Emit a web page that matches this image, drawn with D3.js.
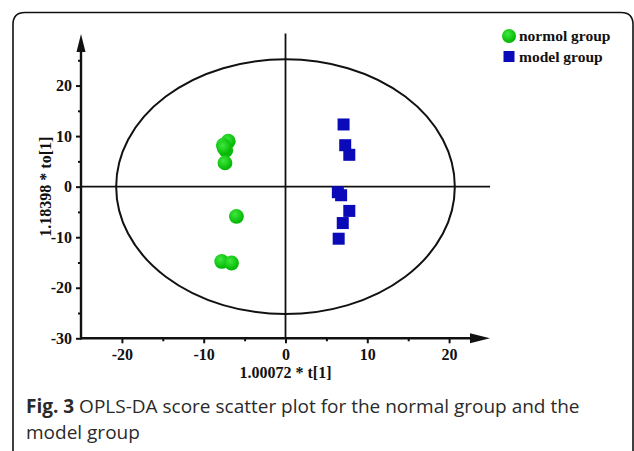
<!DOCTYPE html>
<html>
<head>
<meta charset="utf-8">
<script src="https://cdn.jsdelivr.net/npm/d3@7/dist/d3.min.js"></script>
<style>
  html, body { margin: 0; padding: 0; background: #fff; }
  svg { display: block; }
</style>
</head>
<body>
<svg id="chart" width="634" height="451"></svg>
<script>
// OPLS-DA scores: predictive component t[1] vs orthogonal component to[1]
const normalT = [-7.0, -7.6, -7.3, -7.5, -7.4, -6.0, -7.8, -6.6];
const normalTo = [9.0, 8.2, 7.2, 7.7, 4.7, -5.9, -14.8, -15.1];
const modelT = [7.1, 7.3, 7.8, 6.4, 6.8, 7.8, 7.0, 6.5];
const modelTo = [12.3, 8.2, 6.3, -1.1, -1.7, -4.8, -7.2, -10.3];

const xTicks = [-20, -10, 0, 10, 20];
const xMinorTicks = [-15, -5, 5, 15];
const yTicks = [-30, -20, -10, 0, 10, 20];
const yMinorTicks = [-25, -15, -5, 5, 15, 25];

// Hotelling's T2 ellipse radii (in score units)
const ellipseRx = 20.7;
const ellipseRy = 25.2;

const legendLabels = ["normol group", "model group"];
const xTitle = "1.00072 * t[1]";
const yTitle = "1.18398 * to[1]";

const svg = d3.select("#chart");
const serif = "'Liberation Serif', 'Times New Roman', serif";

const x = d3.scaleLinear().domain([-25, 25]).range([81, 490]);
const y = d3.scaleLinear().domain([-30, 30]).range([338.3, 35]);

// defs: green sphere shading
const defs = svg.append("defs");
const grad = defs.append("radialGradient").attr("id", "greenBall")
  .attr("cx", "40%").attr("cy", "35%").attr("r", "65%");
grad.append("stop").attr("offset", "0%").attr("stop-color", "#3ee83e");
grad.append("stop").attr("offset", "100%").attr("stop-color", "#00b400");

// panel frame with rounded top corners
const fr = 12, fl = 13, ft = 12.5, fright = 633;
svg.append("path")
  .attr("d", `M${fl},451 L${fl},${ft + fr} Q${fl},${ft} ${fl + fr},${ft} L${fright - fr},${ft} Q${fright},${ft} ${fright},${ft + fr} L${fright},451`)
  .attr("fill", "none").attr("stroke", "#111").attr("stroke-width", 1.6);

// confidence ellipse
svg.append("ellipse")
  .attr("cx", x(0)).attr("cy", y(0))
  .attr("rx", x(ellipseRx) - x(0)).attr("ry", y(0) - y(ellipseRy))
  .attr("fill", "none").attr("stroke", "#111").attr("stroke-width", 2);

// zero reference lines
svg.append("line")
  .attr("x1", x(-25)).attr("x2", x(25)).attr("y1", y(0)).attr("y2", y(0))
  .attr("stroke", "#111").attr("stroke-width", 1.8);
svg.append("line")
  .attr("x1", x(0)).attr("x2", x(0)).attr("y1", y(-30)).attr("y2", y(30.3))
  .attr("stroke", "#111").attr("stroke-width", 1.8);

// axes
const fmt = d => String(d);
const xAxis = svg.append("g").attr("transform", `translate(0,${y(-30)})`)
  .call(d3.axisBottom(x).tickValues(xTicks).tickSize(5).tickPadding(5).tickFormat(fmt));
const xMinor = svg.append("g").attr("transform", `translate(0,${y(-30)})`)
  .call(d3.axisBottom(x).tickValues(xMinorTicks).tickSize(3).tickFormat(""));
const yAxis = svg.append("g").attr("transform", `translate(${x(-25)},0)`)
  .call(d3.axisLeft(y).tickValues(yTicks).tickSize(5).tickPadding(4).tickFormat(fmt));
const yMinor = svg.append("g").attr("transform", `translate(${x(-25)},0)`)
  .call(d3.axisLeft(y).tickValues(yMinorTicks).tickSize(3).tickFormat(""));

[xAxis, xMinor, yAxis, yMinor].forEach(g => {
  g.select(".domain").remove();
  g.selectAll(".tick line").attr("stroke", "#111").attr("stroke-width", 2);
  g.selectAll(".tick text")
    .attr("fill", "#111")
    .style("font-family", serif).style("font-weight", "bold").style("font-size", "16px");
});

// axis lines with arrow heads
svg.append("line")
  .attr("x1", x(-25)).attr("x2", x(25) - 16).attr("y1", y(-30)).attr("y2", y(-30))
  .attr("stroke", "#111").attr("stroke-width", 2.4);
svg.append("line")
  .attr("x1", x(-25)).attr("x2", x(-25)).attr("y1", y(-30) + 1.2).attr("y2", y(30) + 14)
  .attr("stroke", "#111").attr("stroke-width", 2.4);
svg.append("path")
  .attr("d", `M${x(25)},${y(-30)} L${x(25) - 20},${y(-30) - 5} L${x(25) - 20},${y(-30) + 5} Z`)
  .attr("fill", "#111");
svg.append("path")
  .attr("d", `M${x(-25)},${y(30) - 1} L${x(-25) - 4.5},${y(30) + 17} L${x(-25) + 4.5},${y(30) + 17} Z`)
  .attr("fill", "#111");

// axis titles
svg.append("text")
  .attr("x", x(0)).attr("y", 378)
  .attr("text-anchor", "middle")
  .style("font-family", serif).style("font-weight", "bold").style("font-size", "16px")
  .attr("fill", "#111").text(xTitle);
svg.append("text")
  .attr("transform", `translate(51,${y(0)}) rotate(-90)`)
  .attr("text-anchor", "middle")
  .style("font-family", serif).style("font-weight", "bold").style("font-size", "16px")
  .attr("fill", "#111").text(yTitle);

// model group squares
const sq = 12;
svg.append("g").selectAll("rect")
  .data(d3.zip(modelT, modelTo))
  .join("rect")
  .attr("x", d => x(d[0]) - sq / 2).attr("y", d => y(d[1]) - sq / 2)
  .attr("width", sq).attr("height", sq)
  .attr("fill", "#0a0ab8");

// normal group circles
svg.append("g").selectAll("circle")
  .data(d3.zip(normalT, normalTo))
  .join("circle")
  .attr("cx", d => x(d[0])).attr("cy", d => y(d[1]))
  .attr("r", 7.4)
  .attr("fill", "url(#greenBall)");

// legend
const legend = svg.append("g");
legend.append("circle").attr("cx", 509).attr("cy", 36).attr("r", 7).attr("fill", "url(#greenBall)");
legend.append("rect").attr("x", 503.5).attr("y", 51).attr("width", 11).attr("height", 11).attr("fill", "#0a0ab8");
legend.selectAll("text")
  .data(legendLabels)
  .join("text")
  .attr("x", 519).attr("y", (d, i) => 40.5 + i * 21)
  .style("font-family", serif).style("font-weight", "bold").style("font-size", "15.5px")
  .attr("fill", "#111").text(d => d);

// figure caption
const cap = svg.append("g")
  .style("font-family", "'Open Sans', 'Noto Sans', sans-serif")
  .style("font-size", "19px").attr("fill", "#2a2a2a");
const line1 = cap.append("text").attr("x", 26).attr("y", 413);
line1.append("tspan").style("font-weight", "bold").text("Fig. 3");
line1.append("tspan").text(" OPLS-DA score scatter plot for the normal group and the");
cap.append("text").attr("x", 26).attr("y", 439).text("model group");
</script>
</body>
</html>
